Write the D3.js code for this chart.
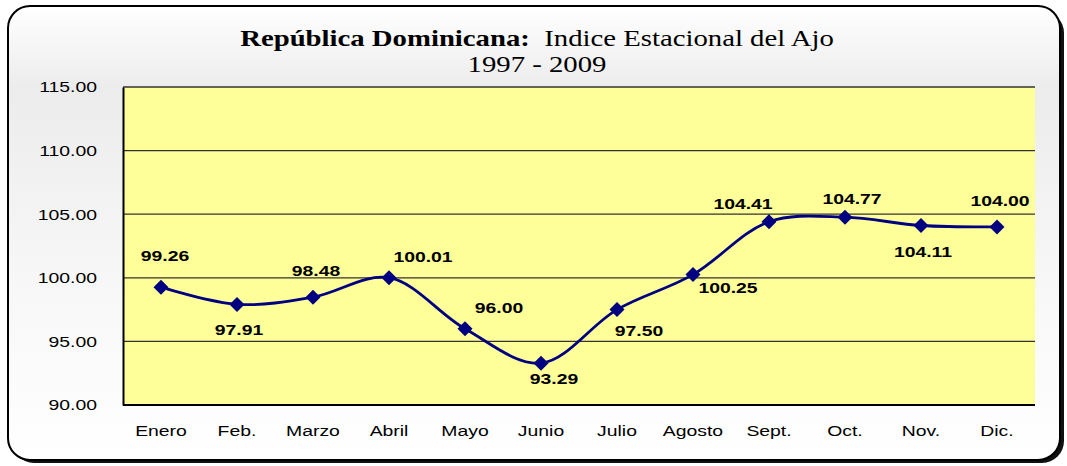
<!DOCTYPE html>
<html><head><meta charset="utf-8">
<script src="https://cdn.jsdelivr.net/npm/d3@7/dist/d3.min.js"></script>
<style>html,body{margin:0;padding:0;background:#fff;}svg{display:block;}</style>
</head><body>
<script>
const months = ["Enero","Feb.","Marzo","Abril","Mayo","Junio","Julio","Agosto","Sept.","Oct.","Nov.","Dic."];
const values = [99.26,97.91,98.48,100.01,96.00,93.29,97.50,100.25,104.41,104.77,104.11,104.00];
const labelPlacement = ["aboveHigh","below","above","upRight","upRight","belowSlightRight","belowRight","right","aboveLeft","aboveLow","below","above"];
const yTicks = [90,95,100,105,110,115];
const titleBold = "República Dominicana:";
const titleRest = "Indice Estacional del Ajo";
const subtitle = "1997 - 2009";

const W = 1067, H = 466, SX = 1.25;
const svg = d3.select("body").append("svg").attr("width", W).attr("height", H);
const defs = svg.append("defs");
const g1 = defs.append("linearGradient").attr("id","bg").attr("x1",0).attr("y1",0).attr("x2",0).attr("y2",1);
g1.append("stop").attr("offset","0%").attr("stop-color","#ffffff");
g1.append("stop").attr("offset","18%").attr("stop-color","#ececec");
g1.append("stop").attr("offset","60%").attr("stop-color","#f7f7f7");
g1.append("stop").attr("offset","100%").attr("stop-color","#ffffff");

svg.append("rect").attr("x",12).attr("y",11).attr("width",1052).attr("height",452).attr("rx",22).attr("fill","#111");
svg.append("rect").attr("x",8).attr("y",6).attr("width",1052).attr("height",454).attr("rx",22)
  .attr("fill","url(#bg)").attr("stroke","#000").attr("stroke-width",2);

const m = {left:123, right:1035, top:87, bottom:405};
const x = d3.scaleBand().domain(months).range([m.left, m.right]);
const y = d3.scaleLinear().domain([90,115]).range([m.bottom, m.top]);

svg.append("rect").attr("x",m.left).attr("y",m.top).attr("width",m.right-m.left).attr("height",m.bottom-m.top).attr("fill","#ffff99");

svg.append("g").selectAll("line").data(yTicks.filter(d=>d>90)).join("line")
  .attr("x1",m.left).attr("x2",m.right).attr("y1",d=>y(d)).attr("y2",d=>y(d))
  .attr("stroke","#333").attr("stroke-width",1.3);

const FONT = "Liberation Sans, Arial, sans-serif";
const yAxis = svg.append("g").attr("transform",`translate(${m.left},0)`)
  .call(d3.axisLeft(y).tickValues(yTicks).tickFormat(d3.format(".2f")).tickSize(0).tickPadding(26));
yAxis.select(".domain").attr("stroke","#000").attr("stroke-width",2);
yAxis.selectAll("text").attr("font-family",FONT).attr("font-size",15.5).attr("fill","#000")
  .attr("x",-26/SX).attr("transform",`scale(${SX},1)`);

const xAxis = svg.append("g").attr("transform",`translate(0,${m.bottom})`)
  .call(d3.axisBottom(x).tickSize(0).tickPadding(20));
xAxis.select(".domain").attr("stroke","#000").attr("stroke-width",2).attr("d",`M${m.left},0H${m.right}`);
xAxis.selectAll("text").attr("font-family",FONT).attr("font-size",15.5).attr("fill","#000")
  .attr("transform",`scale(${SX},1)`);

const cx = d => x(d) + x.bandwidth()/2;
const line = d3.line().x((d,i)=>cx(months[i])).y(d=>y(d)).curve(d3.curveCatmullRom.alpha(0.5));
svg.append("path").datum(values).attr("d",line).attr("fill","none").attr("stroke","#000080").attr("stroke-width",2.8);

svg.append("g").selectAll("path").data(values).join("path")
  .attr("transform",(d,i)=>`translate(${cx(months[i])},${y(d)})`)
  .attr("d","M0,-7.5L7.5,0L0,7.5L-7.5,0Z").attr("fill","#000080");

const off = {
  above:[3,-25], aboveHigh:[4,-30], aboveLow:[7,-17], below:[2,27],
  upRight:[34,-20], belowRight:[22,22], belowSlightRight:[13,17], right:[35,14], aboveLeft:[-26,-17]
};
svg.append("g").selectAll("text").data(values).join("text")
  .attr("transform",(d,i)=>`translate(${cx(months[i])+off[labelPlacement[i]][0]},${y(d)+off[labelPlacement[i]][1]}) scale(${SX},1)`)
  .attr("text-anchor","middle").attr("dominant-baseline","middle")
  .attr("font-family",FONT).attr("font-weight","bold").attr("font-size",15.5)
  .attr("fill","#000").text(d=>d3.format(".2f")(d));

const SERIF = "Liberation Serif, Times New Roman, serif";
const t = svg.append("text").attr("transform",`translate(537,46) scale(${SX},1)`).attr("text-anchor","middle")
  .attr("font-family",SERIF).attr("font-size",23).attr("fill","#000");
t.append("tspan").attr("font-weight","bold").text(titleBold);
t.append("tspan").text("\u00a0\u00a0" + titleRest);
svg.append("text").attr("transform",`translate(537,72) scale(${SX},1)`).attr("text-anchor","middle")
  .attr("font-family",SERIF).attr("font-size",23).attr("fill","#000").text(subtitle);
</script>
</body></html>
